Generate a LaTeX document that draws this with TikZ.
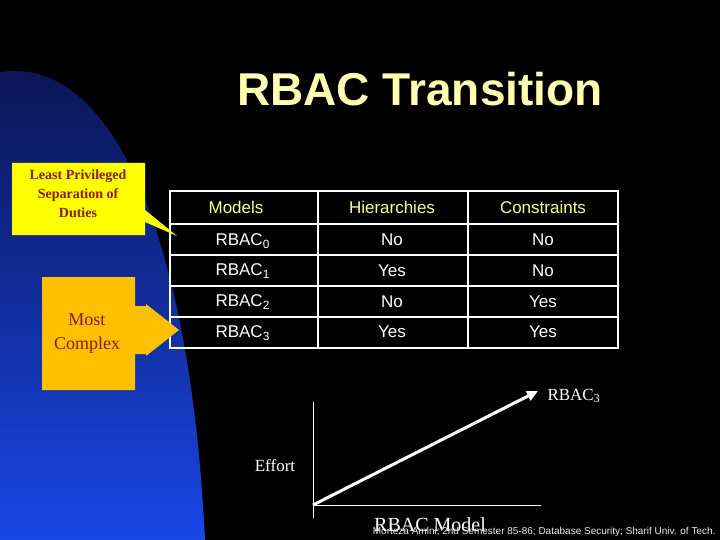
\documentclass[tikz,border=0pt]{standalone}
\usepackage{fontspec}
\setmainfont{Liberation Serif}
\newfontfamily\arial{Liberation Sans}
\usetikzlibrary{arrows.meta}
\definecolor{titley}{HTML}{FFFFB0}
\definecolor{hdry}{HTML}{FFFF80}
\definecolor{cally}{HTML}{FFFF00}
\definecolor{callo}{HTML}{FFC000}
\definecolor{darkred}{HTML}{8B1A00}
\tikzset{
  cell/.style={font=\arial\fontsize{17}{20}\selectfont, text=white},
  hdr/.style={font=\arial\fontsize{17}{20}\selectfont, text=hdry},
  calltext/.style={font=\bfseries\fontsize{14}{19}\selectfont, text=darkred, align=center},
  gtext/.style={font=\fontsize{17}{20}\selectfont, text=white},
}
\begin{document}
\begin{tikzpicture}[x=1pt,y=-1pt]
\fill[black] (0,0) rectangle (720,540);
\useasboundingbox (0,0) rectangle (720,540);
\shade[top color={rgb,255:red,10;green,20;blue,80}, bottom color={rgb,255:red,25;green,70;blue,230}]
  (0,72) .. controls (110,55) and (190,230) .. (205,540) -- (0,540) -- cycle;
\node[font=\arial\bfseries\fontsize{46}{52}\selectfont, text=titley] (title) at (420,89) {RBAC Transition};
% table
\draw[white, line width=1.5pt] (170,191) rectangle (618,348);
\foreach \x in {318,468} \draw[white, line width=1.5pt] (\x,191) -- (\x,348);
\foreach \y in {224,255,286,317} \draw[white, line width=1.5pt] (170,\y) -- (618,\y);
\node[hdr] (h1) at (236,207) {Models};
\node[hdr] (h2) at (392,207) {Hierarchies};
\node[hdr] (h3) at (543,207) {Constraints};
\node[cell,anchor=west] (m0) at (212,241) {RBAC\textsubscript{0}};
\node[cell,anchor=west] (m1) at (212,271) {RBAC\textsubscript{1}};
\node[cell,anchor=west] (m2) at (212,302) {RBAC\textsubscript{2}};
\node[cell,anchor=west] (m3) at (212,333) {RBAC\textsubscript{3}};
\node[cell] at (392,240) {No};  \node[cell] at (543,240) {No};
\node[cell] at (392,271) {Yes}; \node[cell] at (543,271) {No};
\node[cell] at (392,302) {No};  \node[cell] at (543,302) {Yes};
\node[cell] at (392,332) {Yes}; \node[cell] at (543,332) {Yes};
% callouts
\fill[cally] (12,163) -- (145,163) -- (145,210) -- (177,236) -- (145,222) -- (145,235) -- (12,235) -- cycle;
\node[calltext] (c1) at (78,194) {Least Privileged\\Separation of\\Duties};
\fill[callo] (42,277) -- (135,277) -- (135,306) -- (146,306) -- (146,304) -- (179,330) -- (146,356) -- (146,354) -- (135,354) -- (135,390) -- (42,390) -- cycle;
\node[calltext, font=\fontsize{18}{24}\selectfont] (c2) at (87,334) {Most\\Complex};
% graph
\coordinate (o) at (313,505);
\coordinate (top) at (313,402);
\coordinate (bot) at (313,518);
\coordinate (xr) at (541,505);
\coordinate (tip) at (538,391);
\draw[white, line width=0.8pt] (top) -- (bot);
\draw[white, line width=0.8pt] (313,505) -- (xr);
\draw[white, line width=3pt, -{Triangle[length=11pt,width=10pt]}] (o) -- (tip);
\node[gtext, anchor=west] (r3) at (544,396) {RBAC\textsubscript{3}};
\node[gtext] (eff) at (275,466) {Effort};
\node[gtext, font=\fontsize{20}{22}\selectfont] (rm) at (430,525) {RBAC Model};
\node[font=\arial\fontsize{10}{12}\selectfont, text=white!85!gray, anchor=east] (foot) at (719,532) {Morteza Amini; 2nd Semester 85-86; Database Security; Sharif Univ. of Tech.};
\end{tikzpicture}
\end{document}
